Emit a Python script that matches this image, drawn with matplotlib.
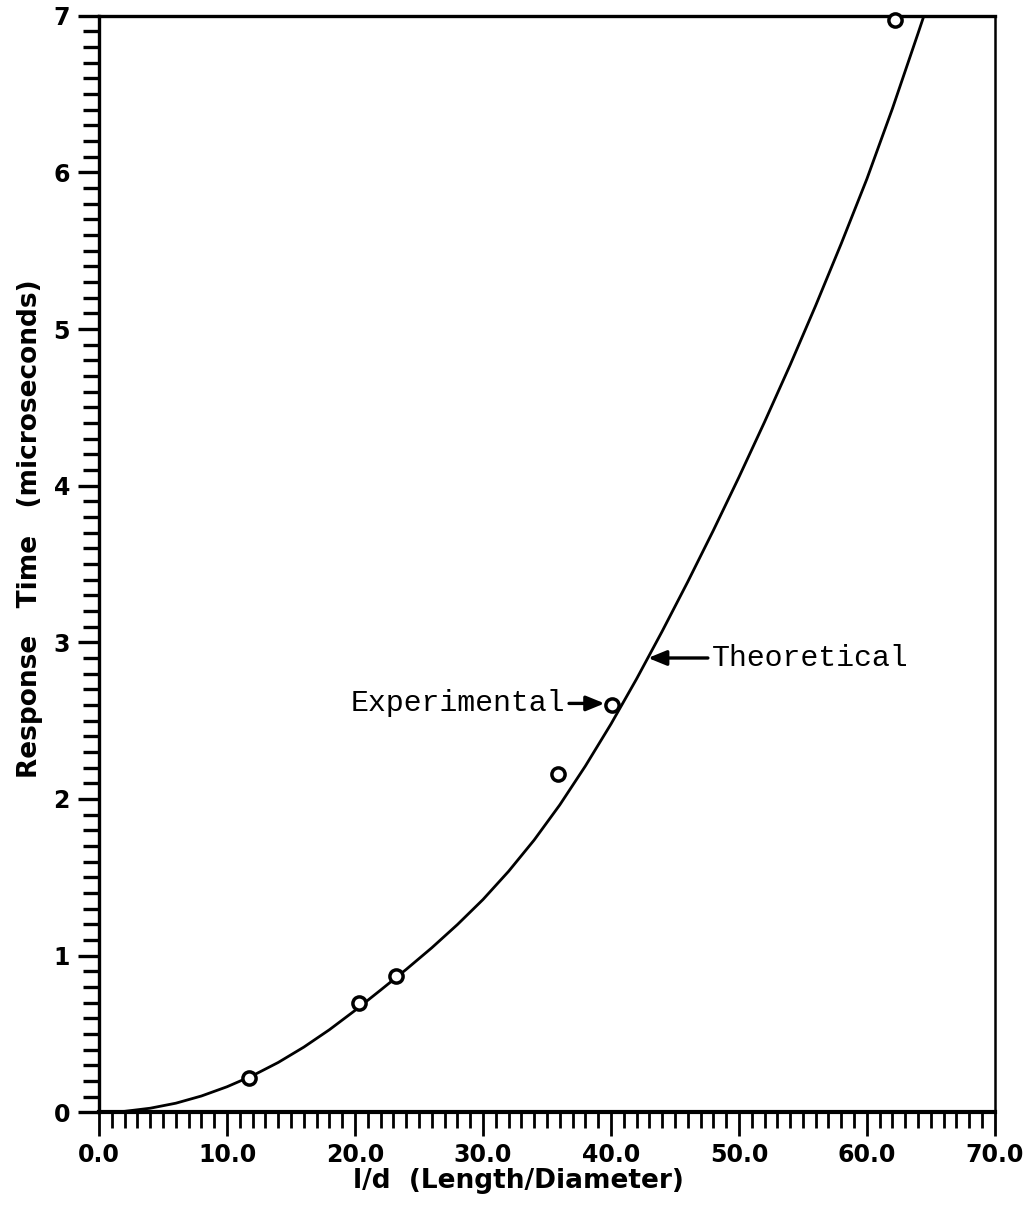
import matplotlib
matplotlib.use("Agg")
import matplotlib.pyplot as plt
from matplotlib.ticker import MultipleLocator, FixedLocator, FormatStrFormatter

# Measured response times
exp_ld = [11.7, 20.3, 23.2, 35.9, 40.1, 62.2]
exp_time = [0.22, 0.70, 0.87, 2.16, 2.60, 6.97]

# Theoretical response curve
theo_ld = [0, 2, 4, 6, 8, 10, 12, 14, 16, 18, 20, 22, 24, 26, 28, 30, 32,
           34, 36, 38, 40, 42, 44, 46, 48, 50, 52, 54, 56, 58, 60, 62, 64, 64.5]
theo_time = [0.0, 0.006, 0.026, 0.058, 0.104, 0.163, 0.234, 0.318, 0.416,
             0.527, 0.65, 0.78, 0.912, 1.05, 1.198, 1.358, 1.538, 1.738,
             1.962, 2.21, 2.478, 2.766, 3.07, 3.386, 3.714, 4.054, 4.406,
             4.77, 5.15, 5.546, 5.958, 6.408, 6.888, 7.01]

x_ticks = [0, 10, 20, 30, 40, 50, 60, 70]
y_ticks = [0, 1, 2, 3, 4, 5, 6, 7]

fig = plt.figure(figsize=(10.32, 12.09), dpi=100)
ax = fig.add_axes([0.096, 0.080, 0.868, 0.907])

ax.plot(theo_ld, theo_time, color="black", lw=2.0, solid_joinstyle="round",
        clip_on=True)
ax.plot(exp_ld, exp_time, linestyle="none", marker="o", ms=9.5,
        mfc="white", mec="black", mew=2.5, clip_on=False, zorder=3)

ax.set_xlim(0, 70)
ax.set_ylim(0, 7)

ax.xaxis.set_major_locator(FixedLocator(x_ticks))
ax.xaxis.set_minor_locator(MultipleLocator(1))
ax.yaxis.set_major_locator(FixedLocator(y_ticks))
ax.yaxis.set_minor_locator(MultipleLocator(0.1))
ax.xaxis.set_major_formatter(FormatStrFormatter("%.1f"))
ax.yaxis.set_major_formatter(FormatStrFormatter("%d"))

ax.tick_params(axis="x", which="major", direction="out", length=17, width=2.0,
               pad=5, labelsize=17)
ax.tick_params(axis="x", which="minor", direction="out", length=11.5, width=2.0)
ax.tick_params(axis="y", which="major", direction="out", length=15, width=2.4,
               pad=6, labelsize=17)
ax.tick_params(axis="y", which="minor", direction="out", length=11.5, width=2.4)
for lab in ax.get_xticklabels() + ax.get_yticklabels():
    lab.set_fontweight("bold")

ax.spines["bottom"].set_linewidth(3.0)
ax.spines["left"].set_linewidth(2.4)
ax.spines["top"].set_linewidth(2.4)
ax.spines["right"].set_linewidth(1.8)

fig.text(0.502, 0.012, "l/d  (Length/Diameter)", ha="center", va="bottom",
         fontsize=19, fontweight="bold")
fig.text(0.016, 0.563, "Response   Time   (microseconds)", ha="left",
         va="center", rotation=90, fontsize=19, fontweight="bold")

mono = "Liberation Mono"
arrow = dict(arrowstyle="-|>,head_length=1.1,head_width=0.45", lw=2.4,
             color="black", shrinkA=1, shrinkB=0, mutation_scale=10)
ax.annotate("Theoretical", xy=(42.9, 2.90), xytext=(47.9, 2.90),
            fontsize=21.5, family=mono, va="center", ha="left",
            arrowprops=arrow)
ax.annotate("Experimental", xy=(39.5, 2.61), xytext=(36.4, 2.61),
            fontsize=21.5, family=mono, va="center", ha="right",
            arrowprops=arrow)

fig.savefig("out.png", dpi=100, facecolor="white")
